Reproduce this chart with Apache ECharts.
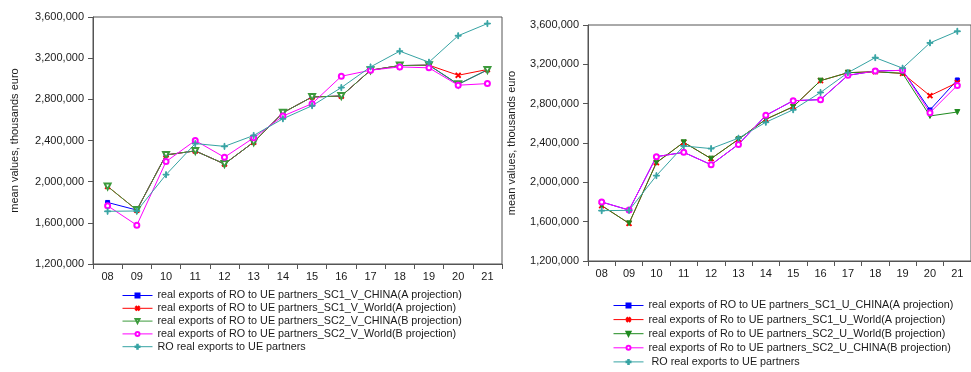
<!DOCTYPE html>
<html>
<head>
<meta charset="utf-8">
<script src="https://cdn.jsdelivr.net/npm/echarts@6/dist/echarts.min.js"></script>
<style>
  html, body { margin: 0; padding: 0; background: #fff; }
  #main { width: 971px; height: 372px; }
</style>
</head>
<body>
<div id="main"></div>
<script>
// years 2008..2021
var years = ['08', '09', '10', '11', '12', '13', '14', '15', '16', '17', '18', '19', '20', '21'];

// real series, same on both panels
var roReal = [1712000, 1715000, 2068000, 2370000, 2343000, 2449000, 2611000, 2738000, 2914000, 3115000, 3268000, 3161000, 3418000, 3536000];

// left panel (V scenarios)
var sc1VChina = [1798000, 1724000, 2260000, 2299000, 2172000, 2384000, 2670000, 2823000, 2832000, 3083000, 3128000, 3132000, 2946000, 3086000];
var sc1VWorld = [1954000, 1724000, 2260000, 2299000, 2172000, 2384000, 2670000, 2823000, 2832000, 3083000, 3128000, 3132000, 3034000, 3090000];
var sc2VChina = [1954000, 1724000, 2260000, 2299000, 2172000, 2384000, 2670000, 2823000, 2832000, 3083000, 3128000, 3132000, 2946000, 3086000];
var sc2VWorld = [1766000, 1577000, 2195000, 2400000, 2237000, 2426000, 2637000, 2758000, 3024000, 3083000, 3115000, 3106000, 2937000, 2953000];

// right panel (U scenarios)
var sc1UChina = [1800000, 1718000, 2261000, 2305000, 2179000, 2386000, 2681000, 2830000, 2841000, 3088000, 3132000, 3139000, 2736000, 3041000];
var sc1UWorld = [1763000, 1583000, 2200000, 2407000, 2241000, 2437000, 2641000, 2769000, 3034000, 3115000, 3125000, 3108000, 2881000, 3014000];
var sc2UWorld = [1763000, 1583000, 2200000, 2407000, 2241000, 2437000, 2641000, 2769000, 3034000, 3115000, 3125000, 3108000, 2675000, 2715000];
var sc2UChina = [1800000, 1718000, 2261000, 2305000, 2179000, 2386000, 2681000, 2830000, 2841000, 3088000, 3132000, 3139000, 2708000, 2986000];

var yTicks = { min: 1200000, max: 3600000, interval: 400000 };

var namesLeft = [
  'real exports of RO to UE partners_SC1_V_CHINA(A projection)',
  'real exports of RO to UE partners_SC1_V_World(A projection)',
  'real exports of RO to UE partners_SC2_V_CHINA(B projection)',
  'real exports of RO to UE partners_SC2_V_World(B projection)',
  'RO real exports to UE partners'
];
var namesRight = [
  'real exports of RO to UE partners_SC1_U_CHINA(A projection)',
  'real exports of Ro to UE partners_SC1_U_World(A projection)',
  'real exports of Ro to UE partners_SC2_U_World(B projection)',
  'real exports of Ro to UE partners_SC2_U_CHINA(B projection)',
  ' RO real exports to UE partners'
];

var PLUS = 'path://M4.3,0H5.7V4.3H10V5.7H5.7V10H4.3V5.7H0V4.3H4.3Z';
var txt = '#1a1a1a';
var axisCol = '#555';
var font = 'Liberation Sans, Arial, sans-serif';

function xAx(idx) {
  return {
    type: 'category', gridIndex: idx, data: years, boundaryGap: true,
    axisLine: { lineStyle: { color: axisCol } },
    axisTick: { show: true, interval: 0, length: 5, lineStyle: { color: axisCol } },
    axisLabel: { color: txt, fontSize: 11, fontFamily: font, margin: 7, interval: 0 }
  };
}
function yAx(idx, gap) {
  return {
    type: 'value', gridIndex: idx, min: yTicks.min, max: yTicks.max, interval: yTicks.interval,
    name: 'mean values, thousands euro', nameLocation: 'middle', nameGap: gap,
    nameTextStyle: { color: txt, fontSize: 11, fontFamily: font },
    axisLine: { show: true, lineStyle: { color: axisCol } },
    axisTick: { show: true, length: 5, lineStyle: { color: axisCol } },
    axisLabel: { color: txt, fontSize: 11, fontFamily: font, margin: 9,
      formatter: function (v) { return v.toLocaleString('en-US'); } },
    splitLine: { show: false }
  };
}
function ser(name, data, idx, color, symbol, size, rotate) {
  return {
    name: name, type: 'line', data: data, xAxisIndex: idx, yAxisIndex: idx,
    color: color, symbol: symbol, symbolSize: size, symbolRotate: rotate || 0,
    showAllSymbol: true, animation: false,
    lineStyle: { width: 1, color: color },
    itemStyle: { color: color, borderColor: color, borderWidth: 1 }
  };
}
function legend(left, top, gap, names) {
  return {
    orient: 'vertical', left: left, top: top, padding: 0, itemWidth: 30, itemHeight: 5,
    itemGap: gap, data: names, selectedMode: false,
    lineStyle: { width: 1 },
    textStyle: { color: txt, fontSize: 10.8, fontFamily: font, lineHeight: 11 }
  };
}

var chart = echarts.init(document.getElementById('main'));
chart.setOption({
  backgroundColor: '#fff',
  animation: false,
  grid: [
    { left: 93, top: 17, width: 409, height: 247, show: true, borderColor: axisCol, borderWidth: 1, backgroundColor: 'transparent' },
    { left: 588, top: 25, width: 389, height: 236, show: true, borderColor: axisCol, borderWidth: 1, backgroundColor: 'transparent' }
  ],
  xAxis: [xAx(0), xAx(1)],
  yAxis: [yAx(0, 73), yAx(1, 71)],
  legend: [legend(122, 290, 1.8, namesLeft), legend(613, 300, 3.1, namesRight)],
  series: [
    ser(namesLeft[0], sc1VChina, 0, '#0000FF', 'rect', 4),
    ser(namesLeft[1], sc1VWorld, 0, '#FF0000', PLUS, 6, 45),
    ser(namesLeft[2], sc2VChina, 0, '#3C9A3C', 'emptyTriangle', 6, 180),
    ser(namesLeft[3], sc2VWorld, 0, '#FF00FF', 'emptyCircle', 5),
    ser(namesLeft[4], roReal, 0, '#36A3A3', PLUS, 6),
    ser(namesRight[0], sc1UChina, 1, '#0000FF', 'rect', 4),
    ser(namesRight[1], sc1UWorld, 1, '#FF0000', PLUS, 6, 45),
    ser(namesRight[2], sc2UWorld, 1, '#1F8A1F', 'triangle', 5, 180),
    ser(namesRight[3], sc2UChina, 1, '#FF00FF', 'emptyCircle', 5),
    ser(namesRight[4], roReal, 1, '#36A3A3', PLUS, 6)
  ]
});
</script>
</body>
</html>
